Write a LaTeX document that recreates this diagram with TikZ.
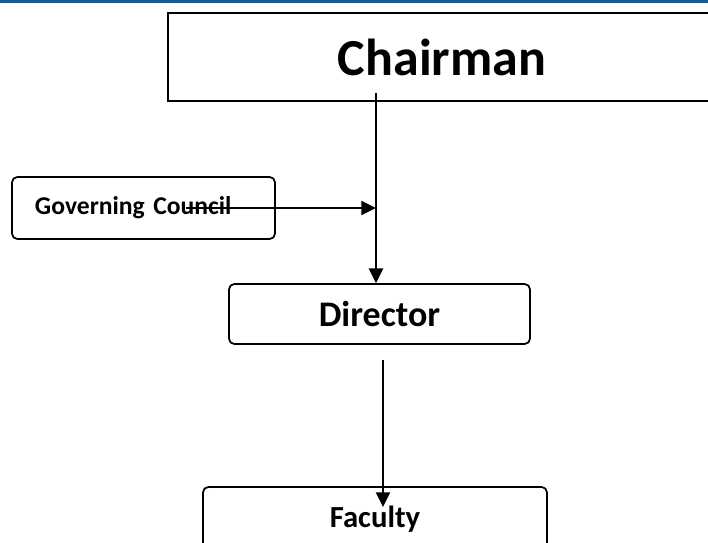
\documentclass[tikz,border=0pt]{standalone}
\usepackage{fontspec}
\setmainfont{Carlito}
\usetikzlibrary{arrows.meta}
\definecolor{barblue}{RGB}{27,92,140}
\begin{document}
\begin{tikzpicture}[x=0.75pt,y=-0.75pt,
  post/.style={draw, line width=1.5pt, font=\bfseries, inner sep=0pt},
  rpost/.style={post, line width=1.3pt, rounded corners=4pt},
  link/.style={line width=1.7pt, -{Triangle[length=11pt,width=10.5pt]}}]
  \useasboundingbox (0,0) rectangle (708,543);
  \clip (0,0) rectangle (708,543);
  \fill[barblue] (0,0) rectangle (708,2.5);

  \node[post, minimum width=411pt, minimum height=66pt, font=\bfseries\fontsize{39}{40}\selectfont]
    (chairman) at (442,57) {Chairman};
  \node[rpost, text width=162.75pt, inner xsep=17.25pt, minimum height=46.5pt, align=left,
    font=\bfseries\fontsize{19.2}{20}\selectfont] (council) at (143.5,208) {Governing Council};
  \node[rpost, minimum width=225.75pt, minimum height=45pt, font=\bfseries\fontsize{27}{28}\selectfont]
    (director) at (379.5,314) {Director};
  \node[rpost, minimum width=258pt, minimum height=48.75pt, font=\bfseries\fontsize{23}{24}\selectfont]
    (faculty) at (375,519.5) {Faculty};

  \coordinate (c1) at (376,93);
  \coordinate (c2) at (186,208);
  \coordinate (d1) at (383,360);
  \coordinate (d2) at (383,507);
  \draw[link] (c1) -- (c1 |- director.north);
  \draw[link] (c2) -- (c2 -| c1);
  \draw[link] (d1) -- (d2);
\end{tikzpicture}
\end{document}
